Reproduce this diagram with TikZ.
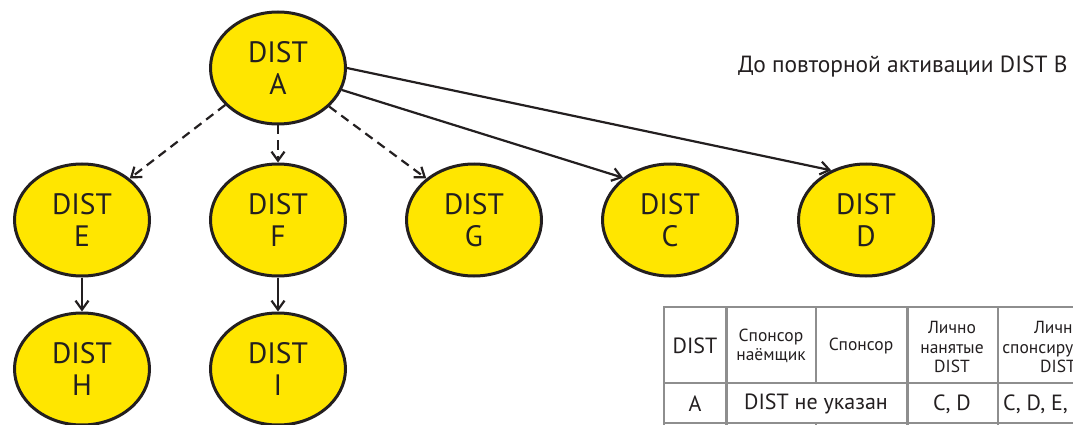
\documentclass[tikz,border=0pt]{standalone}
\usepackage{fontspec}
\setmainfont{PT Sans}
\usetikzlibrary{arrows.meta,shapes.geometric}
\definecolor{ink}{HTML}{231F20}
\definecolor{dyel}{HTML}{FFE600}
\definecolor{gridc}{HTML}{8E8E8E}
\begin{document}
\begin{tikzpicture}[x=1pt,y=-1pt,
  dist/.style={ellipse, draw=ink, line width=3pt, fill=dyel, minimum width=135pt, minimum height=112pt, inner sep=0pt, align=center, text=ink, font=\fontsize{29.5}{32}\selectfont},
  con/.style={draw=ink, line width=2.2pt, -{Straight Barb[length=9pt,width=13pt]}},
  dsh/.style={con, dash pattern=on 9pt off 6pt},
  thin/.style={draw=gridc, line width=1.5pt},
  thick/.style={draw=gridc, line width=3pt},
  hdr/.style={align=center, text=ink, inner sep=0pt, font=\fontsize{17.5}{19.5}\selectfont},
  big/.style={align=center, text=ink, inner sep=0pt, font=\fontsize{22}{24}\selectfont}]
\useasboundingbox (0,0) rectangle (1073,425);
\clip (0,0) rectangle (1073,425);

% nodes
\node[dist] (A) at (278,68) {DIST\\A};
\node[dist] (E) at (82,220) {DIST\\E};
\node[dist] (F) at (278,220) {DIST\\F};
\node[dist] (G) at (474,220) {DIST\\G};
\node[dist] (C) at (670,220) {DIST\\C};
\node[dist] (D) at (866,220) {DIST\\D};
\node[dist] (H) at (82,369) {DIST\\H};
\node[dist] (I) at (278,369) {DIST\\I};

% connectors
\draw[dsh] (A.215) -- (E.41);
\draw[dsh] (A.south) -- (F.north);
\draw[dsh] (A.-37) -- (G.139);
\draw[con] (A.-19) -- (C.138);
\draw[con] (A.east) -- (D.125);
\draw[con] (E.south) -- (H.north);
\draw[con] (F.south) -- (I.north);

% title
\node[anchor=base west, text=ink, inner sep=0pt, font=\fontsize{23.4}{25}\selectfont] (title) at (738,73) {До повторной активации DIST B};

% table grid
\draw[thin] (664,307) -- (1080,307);
\draw[thin] (664,383) -- (1080,383);
\draw[thin] (664,423) -- (1080,423);
\draw[thin] (664,306) -- (664,430);
\draw[thick] (726,306) -- (726,430);
\draw[thin] (816,307) -- (816,383);
\draw[thin] (816,423) -- (816,430);
\draw[thick] (907,306) -- (907,430);
\draw[thin] (998,307) -- (998,430);

% table texts
\node[big] (t11) at (695,346) {DIST};
\node[hdr] (t12) at (771,346) {Спонсор\\наёмщик};
\node[hdr] (t13) at (861,346) {Спонсор};
\node[hdr] (t14) at (952,347) {Лично\\нанятые\\DIST};
\node[hdr] (t15) at (1058,347) {Лично\\спонсируемые\\DIST};
\node[big] (t21) at (695,404) {A};
\node[big] (t22) at (816,404) {DIST не указан};
\node[big] (t23) at (952,404) {C, D};
\node[big, anchor=west] (t24) at (1003,404) {C, D, E, F, G};
\end{tikzpicture}
\end{document}
